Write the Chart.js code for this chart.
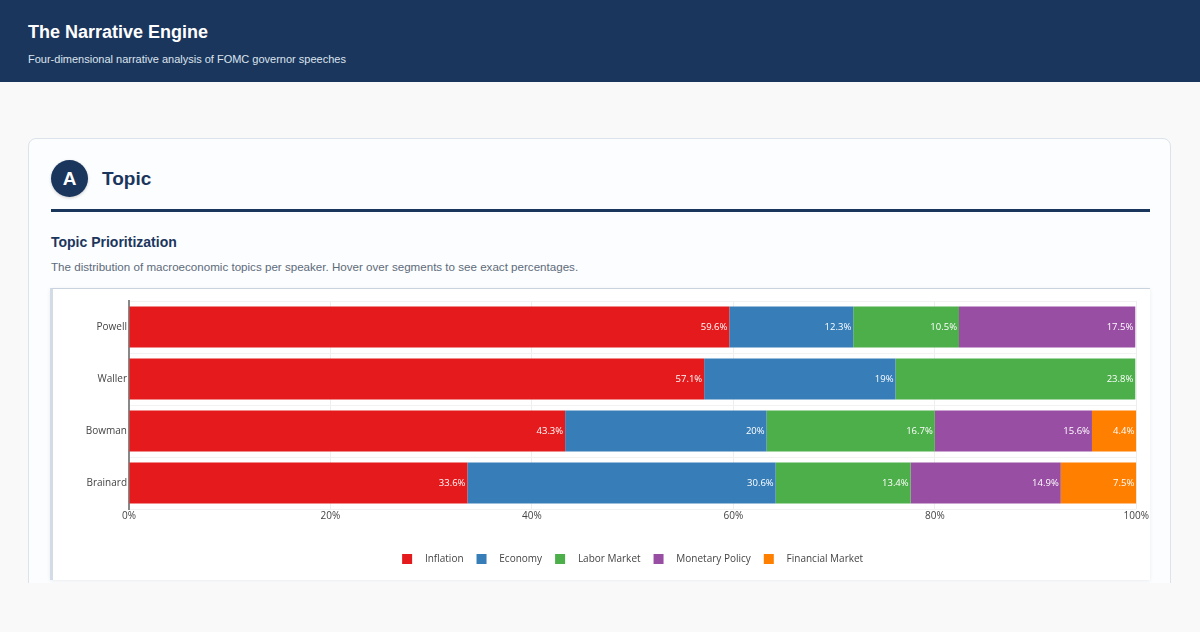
<!DOCTYPE html>
<html>
<head>
<meta charset="utf-8">
<script src="https://cdn.jsdelivr.net/npm/chart.js@4"></script>
<style>
  * { box-sizing: border-box; }
  body { margin: 0; background: #f9f9f9; font-family: "Liberation Sans", Arial, sans-serif; width: 1200px; height: 632px; overflow: hidden; }
  header { background: #1b365d; height: 82px; padding: 21px 28px 0; color: #fff; }
  header h1 { margin: 0; font-size: 18px; font-weight: bold; line-height: 22px; }
  header p { margin: 10px 0 0; font-size: 11px; color: #dce4ee; }
  .card { position: absolute; left: 28px; top: 138px; width: 1143px; height: 460px; background: #fcfdfe; border: 1px solid #dde3ea; border-radius: 8px; }
  .sec { position: absolute; left: 22px; top: 21px; display: flex; align-items: center; }
  .badge { width: 37px; height: 37px; border-radius: 50%; background: #1b365d; color: #fff; font-weight: bold; font-size: 19px; display: flex; align-items: center; justify-content: center; box-shadow: 0 1px 3px rgba(0,0,0,0.2); }
  .sec h2 { margin: 0 0 0 14px; font-size: 19px; color: #1b365d; }
  .rule { position: absolute; left: 22px; top: 70px; width: 1099px; height: 3px; background: #1b365d; }
  .card h3 { position: absolute; left: 22px; top: 95px; margin: 0; font-size: 14px; color: #1b365d; }
  .desc { position: absolute; left: 22px; top: 121px; margin: 0; font-size: 11.6px; color: #5d6b7b; }
  .box { position: absolute; left: 50px; top: 288px; width: 1100px; height: 292px; background: #fff; border-top: 1px solid #c9d3df; border-left: 3px solid #d3dbe6; box-shadow: 0 1px 4px rgba(0,0,0,0.07); }
  .page-cut { position: absolute; left: 0; top: 583px; width: 1200px; height: 49px; background: #f9f9f9; }
</style>
</head>
<body>
<header>
  <h1>The Narrative Engine</h1>
  <p>Four-dimensional narrative analysis of FOMC governor speeches</p>
</header>
<div class="card">
  <div class="sec"><div class="badge">A</div><h2>Topic</h2></div>
  <div class="rule"></div>
  <h3>Topic Prioritization</h3>
  <p class="desc">The distribution of macroeconomic topics per speaker. Hover over segments to see exact percentages.</p>
</div>
<div class="box"><canvas id="topicChart"></canvas></div>
<div class="page-cut"></div>
<script>
const speakers = ["Powell", "Waller", "Bowman", "Brainard"];
const topics = ["Inflation", "Economy", "Labor Market", "Monetary Policy", "Financial Market"];
const inflation = [59.6, 57.1, 43.3, 33.6];
const economy = [12.3, 19, 20, 30.6];
const laborMarket = [10.5, 23.8, 16.7, 13.4];
const monetaryPolicy = [17.5, 0, 15.6, 14.9];
const financialMarket = [0, 0, 4.4, 7.5];
const xTicks = [0, 20, 40, 60, 80, 100];
const colors = ["#e41a1c", "#377eb8", "#4daf4a", "#984ea3", "#ff7f00"];

const series = [inflation, economy, laborMarket, monetaryPolicy, financialMarket];

// draw the percentage at the inner end of each segment
const barLabels = {
    id: "barLabels",
    afterDatasetsDraw(chart) {
        const ctx = chart.ctx;
        ctx.save();
        ctx.font = "9.5px 'Open Sans'";
        ctx.fillStyle = "#fff";
        ctx.textAlign = "right";
        ctx.textBaseline = "middle";
        chart.data.datasets.forEach((ds, i) => {
            chart.getDatasetMeta(i).data.forEach((bar, j) => {
                const v = ds.data[j];
                if (!v) return;
                ctx.fillText(v + "%", bar.x - 2, bar.y);
            });
        });
        ctx.restore();
    }
};

const chart = new Chart(document.getElementById("topicChart"), {
    type: "bar",
    data: {
        labels: speakers,
        datasets: topics.map((t, i) => ({
            label: t,
            data: series[i],
            backgroundColor: colors[i],
            borderColor: colors[i],
            borderWidth: 0,
            categoryPercentage: 1,
            barPercentage: 0.79
        }))
    },
    options: {
        indexAxis: "y",
        responsive: true,
        maintainAspectRatio: false,
        animation: false,
        layout: { padding: { top: 12, right: 13, bottom: 6 } },
        plugins: {
            legend: {
                position: "bottom",
                fullSize: false,
                labels: {
                    boxWidth: 10,
                    boxHeight: 10,
                    padding: 13,
                    color: "#444",
                    font: { family: "'Open Sans'", size: 10 },
                    // a little more room between swatch and text
                    generateLabels: c => Chart.defaults.plugins.legend.labels.generateLabels(c)
                        .map(l => Object.assign(l, { text: "   " + l.text }))
                }
            },
            tooltip: {
                callbacks: {
                    label: item => `${item.dataset.label}: ${item.raw}%`
                }
            }
        },
        scales: {
            x: {
                stacked: true,
                min: 0,
                max: 100,
                afterBuildTicks: s => { s.ticks = xTicks.map(v => ({ value: v })); },
                afterFit: s => { s.height += 18; },
                ticks: { color: "#444", font: { family: "'Open Sans'", size: 10 }, callback: v => v + "%", padding: 1 },
                grid: { color: "#eeeeee", drawTicks: false },
                border: { display: false }
            },
            y: {
                stacked: true,
                afterFit: s => { s.width = 76; },
                ticks: { color: "#444", font: { family: "'Open Sans'", size: 10 }, padding: 2 },
                grid: { color: "#f2f2f2", drawTicks: false },
                border: { color: "#888", width: 2 }
            }
        }
    },
    plugins: [barLabels]
});
</script>
</body>
</html>
